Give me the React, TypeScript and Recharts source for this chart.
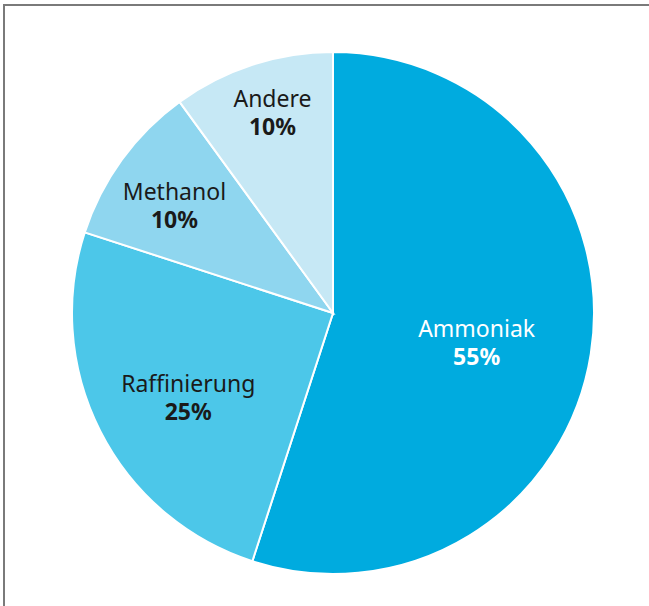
import { PieChart, Pie, Cell } from 'recharts';

const names = ['Ammoniak', 'Raffinierung', 'Methanol', 'Andere'];
const shares = [55, 25, 10, 10];
const colors = ['#00abdf', '#4cc7e9', '#8fd6ef', '#c6e8f5'];
const textColors = ['#ffffff', '#1a1a1a', '#1a1a1a', '#1a1a1a'];

const data = names.map((name, i) => ({ name, value: shares[i] }));

const RADIAN = Math.PI / 180;
// how far out each label sits, as a fraction of the radius, plus a small hand nudge
const labelSpread = [0.565, 0.644, 0.732, 0.80];
const labelNudge = [[-2, 7], [5, 9], [-4, 5], [4, -1]];

const renderLabel = (props: any) => {
    const { cx, cy, midAngle, outerRadius, index, name, value } = props;
    const r = outerRadius * labelSpread[index];
    const x = cx + r * Math.cos(-midAngle * RADIAN) + labelNudge[index][0];
    const y = cy + r * Math.sin(-midAngle * RADIAN) + labelNudge[index][1];
    const font = { fontFamily: '"Noto Sans", sans-serif', fontSize: 23 };
    return (
        <g>
            <text x={x} y={y - 6} textAnchor="middle" fill={textColors[index]} style={font}>
                {name}
            </text>
            <text x={x} y={y + 22} textAnchor="middle" fill={textColors[index]} fontWeight="bold" style={font}>
                {value}%
            </text>
        </g>
    );
};

export default function App() {
    return (
        <div style={{ position: 'absolute', left: 0, top: 0, width: 649, height: 606, background: '#fff' }}>
            <div
                style={{
                    position: 'absolute',
                    left: 3,
                    top: 4,
                    right: 0,
                    bottom: 0,
                    borderTop: '2px solid #7a7a7a',
                    borderLeft: '2px solid #7a7a7a',
                }}
            />
            <div style={{ position: 'absolute', left: 0, top: 0 }}>
                <PieChart width={649} height={606} margin={{ top: 0, right: 0, bottom: 0, left: 0 }}>
                    <Pie
                        data={data}
                        dataKey="value"
                        nameKey="name"
                        cx={333}
                        cy={313}
                        outerRadius={261}
                        startAngle={90}
                        endAngle={-270}
                        stroke="#ffffff"
                        strokeWidth={2}
                        label={renderLabel}
                        labelLine={false}
                        isAnimationActive={false}
                    >
                        {data.map((d, i) => (
                            <Cell key={d.name} fill={colors[i]} />
                        ))}
                    </Pie>
                </PieChart>
            </div>
        </div>
    );
}
